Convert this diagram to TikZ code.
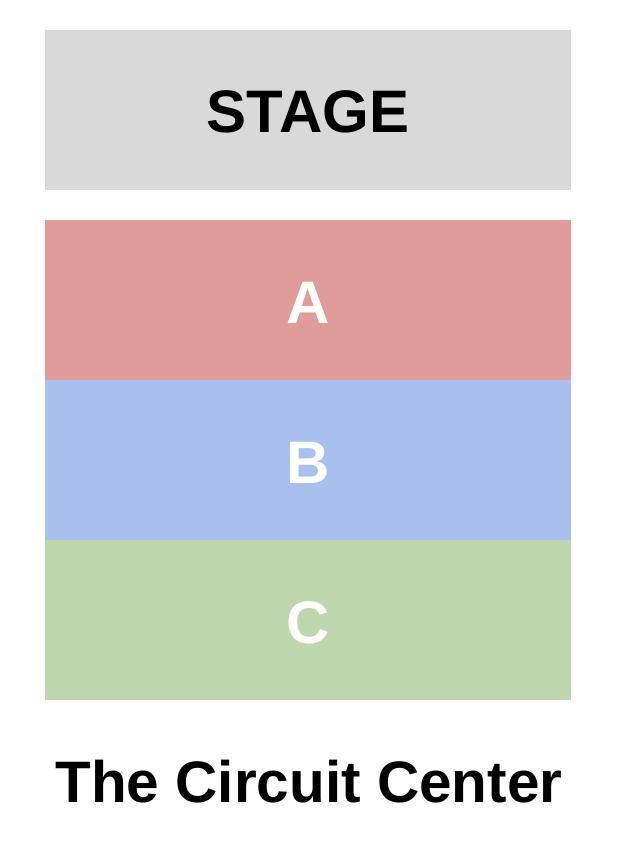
\documentclass[tikz,border=0pt]{standalone}
\usepackage{fontspec}
\setmainfont{Liberation Sans}
\definecolor{stagegray}{HTML}{D9D9D9}
\definecolor{seca}{HTML}{E09C9A}
\definecolor{secb}{HTML}{A9C0EE}
\definecolor{secc}{HTML}{BED6AD}
\begin{document}
\begin{tikzpicture}[x=1pt,y=-1pt,
  lbl/.style={font=\fontsize{60}{62}\selectfont\bfseries,inner sep=0pt},
  ttl/.style={font=\fontsize{58.5}{60}\selectfont\bfseries,inner sep=0pt}]
\useasboundingbox (0,0) rectangle (620,852);
\fill[stagegray] (45,30) rectangle (571,190);
\fill[seca] (45,220) rectangle (571,380);
\fill[secb] (45,380) rectangle (571,540);
\fill[secc] (45,540) rectangle (571,700);
\node[lbl,text=black] (stage) at (308,112) {STAGE};
\node[lbl,text=white] (a) at (308,303) {A};
\node[lbl,text=white] (b) at (308,463) {B};
\node[lbl,text=white] (c) at (308,623) {C};
\node[ttl] (title) at (309,782) {The Circuit Center};
\end{tikzpicture}
\end{document}
